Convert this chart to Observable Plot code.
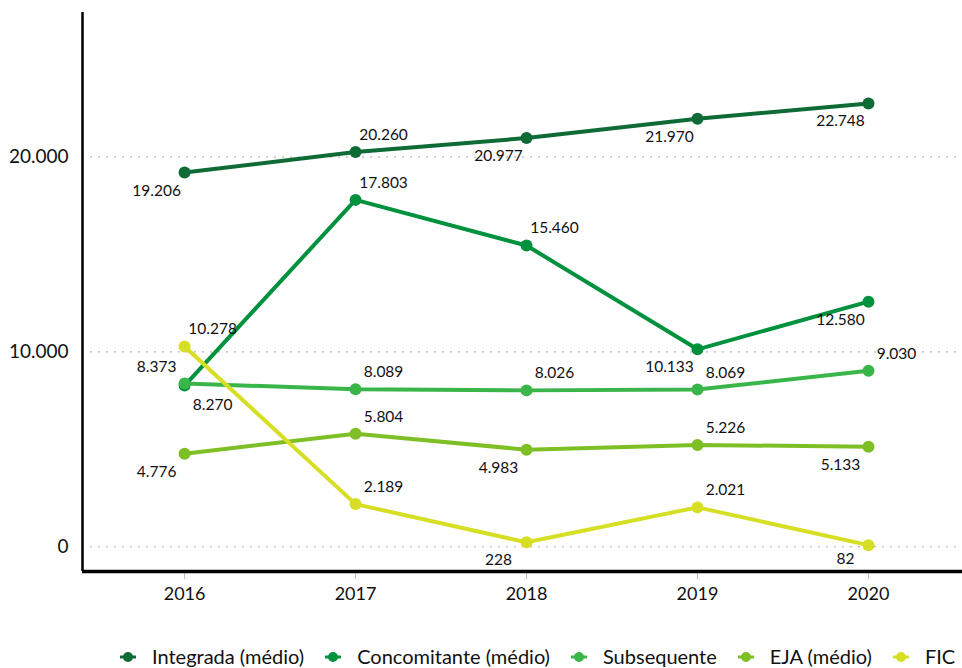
<!DOCTYPE html>
<html>
<head>
<meta charset="utf-8">
<script src="https://cdn.jsdelivr.net/npm/d3@7"></script>
<script src="https://cdn.jsdelivr.net/npm/@observablehq/plot@0.6"></script>
<style>
  html, body { margin: 0; padding: 0; background: #fff; }
  body { width: 962px; height: 668px; overflow: hidden; font-family: Lato, "Open Sans", sans-serif; }
  #legend { display: flex; justify-content: flex-start; align-items: center; box-sizing: border-box; padding-left: 119px; padding-top: 20px; height: 43px; font-size: 20px; line-height: 23px; color: #111; white-space: nowrap; }
  .item { display: flex; align-items: center; margin: 0 20px 0 0; }
  .item svg { margin-right: 15px; }
</style>
</head>
<body>
<div id="chart"></div>
<div id="legend"></div>
<script>
const years = [2016, 2017, 2018, 2019, 2020];
const seriesNames = ["Integrada (médio)", "Concomitante (médio)", "Subsequente", "EJA (médio)", "FIC"];
const integrada    = [19206, 20260, 20977, 21970, 22748];
const concomitante = [8270, 17803, 15460, 10133, 12580];
const subsequente  = [8373, 8089, 8026, 8069, 9030];
const eja          = [4776, 5804, 4983, 5226, 5133];
const fic          = [10278, 2189, 228, 2021, 82];
const colors = ["#0E6B36", "#00913F", "#3AB54A", "#7FBF26", "#D6DF23"];
const yTicks = [0, 10000, 20000];
// label placement per point: "ur" = above-right, "ll" = below-left, etc.
const labelPlacement = [
  ["ll", "ur", "ll", "ll", "ll"],
  ["lr", "ur", "ur", "ll", "ll"],
  ["ul", "ur", "ur", "ur", "ur"],
  ["ll", "ur", "ll", "ur", "ll"],
  ["ur", "ur", "ll", "ur", "ls"]
];

const values = [integrada, concomitante, subsequente, eja, fic];
const rows = [];
values.forEach((vals, s) => vals.forEach((v, i) => rows.push({
  series: seriesNames[s], year: years[i], value: v, pos: labelPlacement[s][i]
})));

const fmt = d3.formatLocale({decimal: ",", thousands: ".", grouping: [3], currency: ["", ""]}).format(",d");

const xDomain = [2015.403, 2020.55];
const yDomain = [-1270, 27420];

const offsets = {
  ur: {dx: 28, dy: -17},
  ul: {dx: -28, dy: -17},
  ll: {dx: -28, dy: 18},
  lr: {dx: 28, dy: 19},
  ls: {dx: -23, dy: 14}
};

const textMarks = Object.entries(offsets).map(([k, o]) =>
  Plot.text(rows.filter(d => d.pos === k), {
    x: "year", y: "value", text: d => fmt(d.value),
    dx: o.dx, dy: o.dy, fill: "#111", fontSize: 15.5
  })
);

const chart = Plot.plot({
  width: 962,
  height: 625,
  marginLeft: 82,
  marginRight: 0,
  marginTop: 12,
  marginBottom: 54,
  style: {fontFamily: "Lato, 'Open Sans', sans-serif", color: "#111", background: "#fff"},
  x: {type: "linear", domain: xDomain, label: null},
  y: {domain: yDomain, label: null},
  color: {domain: seriesNames, range: colors},
  marks: [
    Plot.gridY(yTicks, {stroke: "#999", strokeOpacity: 0.9, strokeDasharray: "2,6", strokeWidth: 1}),
    Plot.axisY({ticks: yTicks, tickFormat: fmt, tickSize: 0, tickPadding: 14, fontSize: 19, fill: "#111", label: null}),
    Plot.axisX({ticks: years, tickFormat: "d", tickSize: 8, stroke: "#bbb", tickPadding: 8, fontSize: 18, fill: "#111", label: null}),
    Plot.ruleX([xDomain[0]], {stroke: "#000", strokeWidth: 2.5}),
    Plot.ruleY([yDomain[0]], {stroke: "#000", strokeWidth: 3.5}),
    Plot.line(rows, {x: "year", y: "value", z: "series", stroke: "series", strokeWidth: 4}),
    Plot.dot(rows, {x: "year", y: "value", fill: "series", r: 6}),
    ...textMarks
  ]
});
document.getElementById("chart").appendChild(chart);

const legend = document.getElementById("legend");
seriesNames.forEach((name, i) => {
  const item = document.createElement("div");
  item.className = "item";
  item.innerHTML = `<svg width="18" height="14"><line x1="1" x2="17" y1="7" y2="7" stroke="${colors[i]}" stroke-width="3"/><circle cx="9" cy="7" r="5" fill="${colors[i]}"/></svg><span>${name}</span>`;
  legend.appendChild(item);
});
</script>
</body>
</html>
